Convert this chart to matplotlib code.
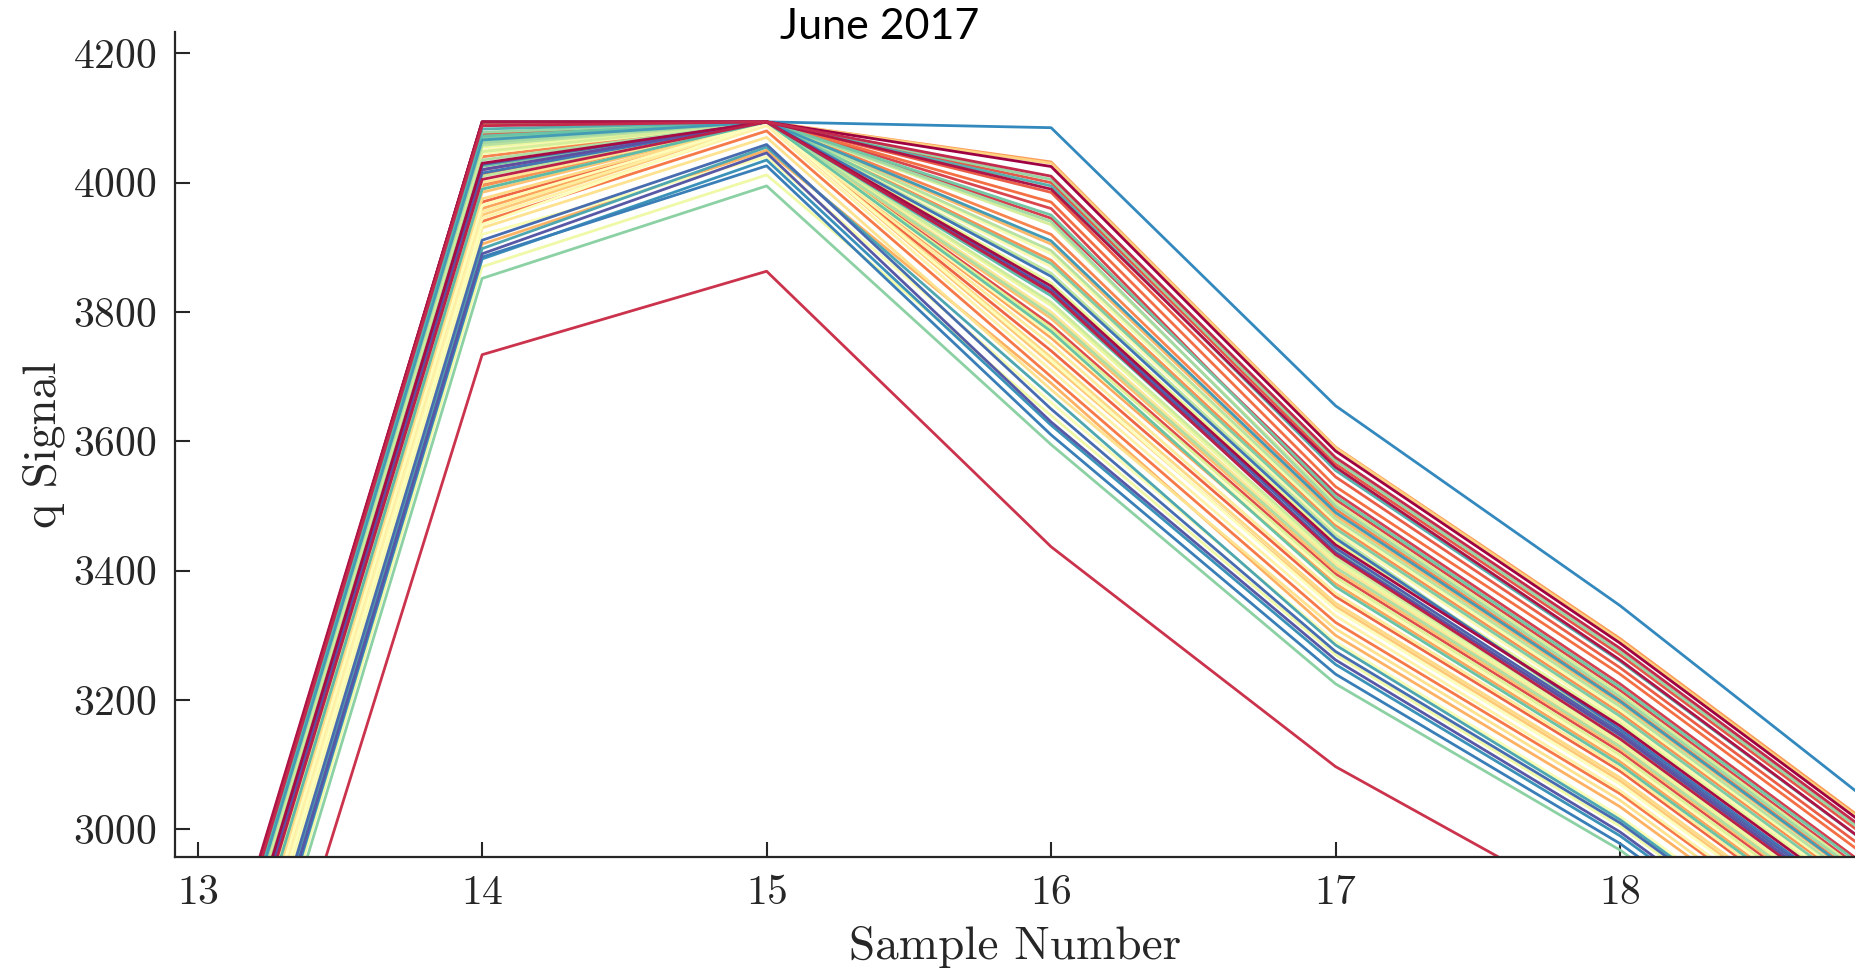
import matplotlib
matplotlib.use("Agg")
import matplotlib.pyplot as plt
import numpy as np

# q-channel pulse samples, one entry per trace (samples 13..19)
samples = [13, 14, 15, 16, 17, 18, 19]

q_s13 = [2634, 2575, 2640, 2550, 2625, 2320, 2565, 2630, 2545, 2615,
         2555, 2515, 2628, 2485, 2582, 2538, 2636, 2500, 2450, 2600,
         2528, 2492, 2632, 2518, 2470, 2542, 2497, 2488, 2590, 2505,
         2478, 2462, 2586, 2414, 2598, 2532, 2606, 2590, 2612, 2552,
         2600, 2578, 2604, 2620, 2396, 2610, 2568, 2612, 2530, 2624,
         2440, 2606, 2426, 2632, 2430, 2558, 2452, 2570, 2434, 2562]
q_s14 = [4094, 4030, 4094, 4005, 4088, 3734, 4020, 4094, 3998, 4075,
         4012, 3970, 4090, 3940, 4040, 3995, 4094, 3960, 3905, 4060,
         3985, 3950, 4094, 3975, 3930, 4000, 3955, 3945, 4050, 3965,
         3935, 3920, 4045, 3870, 4055, 3990, 4065, 4048, 4070, 4010,
         4058, 4035, 4062, 4078, 3852, 4068, 4025, 4072, 3990, 4083,
         3898, 4066, 3882, 4094, 3885, 4015, 3911, 4028, 3890, 4020]
q_s15 = [4094, 4094, 4094, 4094, 4094, 3863, 4094, 4094, 4094, 4094,
         4094, 4094, 4094, 4080, 4094, 4094, 4094, 4094, 4050, 4094,
         4094, 4094, 4094, 4094, 4070, 4094, 4094, 4088, 4094, 4094,
         4094, 4040, 4094, 4012, 4094, 4094, 4094, 4094, 4094, 4094,
         4094, 4094, 4094, 4094, 3995, 4094, 4094, 4094, 4094, 4094,
         4055, 4094, 4035, 4094, 4026, 4094, 4059, 4094, 4046, 4094]
q_s16 = [4025, 3840, 3990, 3830, 4010, 3437, 3945, 3960, 3780, 4000,
         3985, 3740, 3970, 3700, 3920, 3880, 4032, 3760, 3690, 3905,
         3790, 3720, 4030, 3730, 3680, 3800, 3750, 3710, 3870, 3765,
         3725, 3660, 3890, 3640, 3810, 3845, 3775, 3935, 3815, 3860,
         3895, 3795, 3940, 4005, 3595, 3875, 3950, 3770, 3825, 3995,
         3670, 3910, 3625, 4085, 3610, 3855, 3650, 3835, 3630, 3832]
q_s17 = [3585, 3440, 3560, 3425, 3575, 3097, 3520, 3510, 3395, 3565,
         3545, 3360, 3530, 3320, 3495, 3470, 3591, 3380, 3300, 3485,
         3400, 3345, 3590, 3350, 3310, 3410, 3365, 3330, 3460, 3385,
         3340, 3290, 3475, 3270, 3415, 3445, 3390, 3505, 3420, 3455,
         3480, 3405, 3500, 3570, 3225, 3465, 3515, 3375, 3430, 3555,
         3285, 3490, 3255, 3655, 3240, 3450, 3275, 3435, 3262, 3428]
q_s18 = [3288, 3160, 3262, 3140, 3280, 2853, 3225, 3215, 3120, 3270,
         3250, 3090, 3240, 3055, 3200, 3180, 3295, 3105, 3035, 3195,
         3125, 3075, 3292, 3080, 3045, 3130, 3095, 3060, 3170, 3110,
         3070, 3020, 3185, 3005, 3135, 3165, 3115, 3210, 3140, 3150,
         3190, 3128, 3205, 3275, 2968, 3175, 3220, 3100, 3145, 3260,
         3015, 3198, 2990, 3346, 2978, 3155, 3010, 3150, 2996, 3146]
q_s19 = [2962, 2838, 2936, 2818, 2955, 2610, 2900, 2890, 2798, 2945,
         2925, 2768, 2915, 2735, 2877, 2858, 2968, 2782, 2715, 2872,
         2802, 2752, 2965, 2758, 2722, 2808, 2772, 2738, 2848, 2788,
         2748, 2700, 2862, 2685, 2812, 2842, 2792, 2886, 2818, 2828,
         2866, 2805, 2882, 2950, 2650, 2852, 2896, 2778, 2822, 2936,
         2694, 2874, 2670, 3000, 2660, 2832, 2690, 2828, 2676, 2822]

x_ticks = [13, 14, 15, 16, 17, 18]
y_ticks = [3000, 3200, 3400, 3600, 3800, 4000, 4200]

plt.rcParams['font.family'] = 'cmr10'
plt.rcParams['axes.formatter.use_mathtext'] = True

traces = np.array([q_s13, q_s14, q_s15, q_s16, q_s17, q_s18, q_s19]).T
colors = plt.cm.Spectral(np.linspace(0, 1, len(traces)))

fig = plt.figure(figsize=(18.55, 9.72), dpi=100)
ax = fig.add_axes([0.0943, 0.1188, 0.9057, 0.8483])

# first few dark red traces go last so they stay on top
order = list(range(5, len(traces))) + list(range(5))
for i in order:
    ax.plot(samples, traces[i], color=colors[i], lw=2.0)

ax.set_xlim(12.92, 18.826)
ax.set_ylim(2958, 4233)
ax.set_xticks(x_ticks)
ax.set_yticks(y_ticks)

for side in ['top', 'right']:
    ax.spines[side].set_visible(False)
for side in ['left', 'bottom']:
    ax.spines[side].set_linewidth(1.6)
    ax.spines[side].set_color('#262626')

ax.tick_params(direction='in', length=11, width=1.5, color='#262626',
               labelsize=30, pad=13, labelcolor='#262626')

ax.set_xlabel('Sample Number', fontsize=34, color='#262626')
ax.xaxis.label.set_verticalalignment('baseline')
ax.xaxis.set_label_coords(0.5, -0.124)
ax.set_ylabel('q Signal', fontsize=34, labelpad=6, color='#262626')

fig.text(0.474, 1 - 27 / 972, 'June 2017', ha='center', va='center',
         fontsize=31, family='Lato', color='black')

fig.savefig('out.png', dpi=100)
